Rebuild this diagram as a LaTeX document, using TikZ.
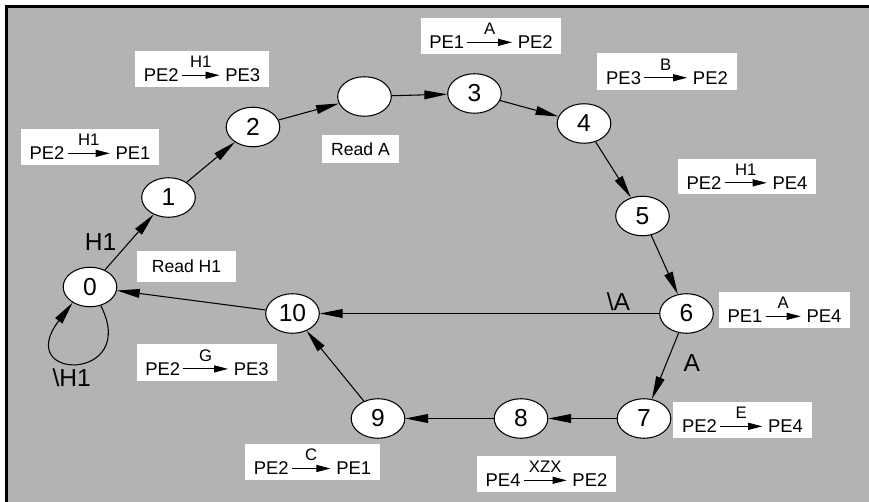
\documentclass[tikz,border=0pt]{standalone}
\usepackage{fontspec}
\setmainfont{Liberation Sans}
\usepackage{xcolor}
\usetikzlibrary{arrows.meta,shapes.geometric}
\definecolor{bggray}{RGB}{179,179,179}
\newcommand{\trans}[4][24pt]{#2\kern1.5pt\tikz[baseline=-3.6pt]\draw[-{Triangle[length=8pt,width=4pt]},line width=0.55pt] (0pt,0pt) -- node[above=4pt,inner sep=0pt,font=\fontsize{9.5}{10}\selectfont]{#3} (#1,0pt);\kern3pt#4}

\begin{document}
\begin{tikzpicture}[x=0.02cm,y=0.02cm]
	\tikzstyle{every node}+=[inner sep=0pt]
	\tikzstyle{state}=[draw=black,fill=white,ellipse,line width=0.6pt,minimum width=30.5pt,minimum height=22.5pt,font=\fontsize{14}{16}\selectfont]
	\tikzstyle{note}=[fill=white,inner xsep=5pt,inner ysep=3pt,font=\fontsize{10.5}{12}\selectfont]
	\tikzstyle{readbox}=[fill=white,minimum width=44pt,minimum height=16pt,font=\fontsize{10}{12}\selectfont]
	\tikzstyle{flow}=[black,line width=0.6pt,-{Triangle[length=13pt,width=5pt]}]
	\tikzstyle{lbl}=[font=\fontsize{14}{16}\selectfont]
	\useasboundingbox (0,0) rectangle (869,-502);
	\fill [white] (0,0) rectangle (869,-502);
	\fill [bggray] (6.5,-6.5) rectangle (869,-502);
	\draw [black,line width=1.7pt] (6.5,-502) -- (6.5,-6.5) -- (869,-6.5);
	\node [state] (n0) at (90,-287) {0};
	\node [state] (n1) at (168.5,-197.5) {1};
	\node [state] (n2) at (253,-127) {2};
	\node [state] (na) at (364.5,-96.5) {};
	\node [state] (n3) at (474.5,-93.5) {3};
	\node [state] (n4) at (584,-123.5) {4};
	\node [state] (n5) at (642.5,-216) {5};
	\node [state] (n6) at (686.5,-313.5) {6};
	\node [state] (n7) at (644,-418.5) {7};
	\node [state] (n8) at (521,-418.5) {8};
	\node [state] (n9) at (378,-418.5) {9};
	\node [state] (n10) at (292.5,-313.5) {10};
	\node [note] (t1) at (90,-147) {\trans{PE2}{H1}{PE1}};
	\node [note] (t2) at (202,-69) {\trans[21.5pt]{PE2}{H1}{PE3}};
	\node [note] (t3) at (491,-36) {\trans[25.5pt]{PE1}{A}{PE2}};
	\node [note] (t4) at (667,-71.5) {\trans[24.5pt]{PE3}{B}{PE2}};
	\node [note] (t5) at (747,-176.5) {\trans{PE2}{H1}{PE4}};
	\node [note] (t6) at (207,-362.5) {\trans[25.5pt]{PE2}{G}{PE3}};
	\node [note] (t7) at (312.5,-462) {\trans[22pt]{PE2}{C}{PE1}};
	\node [note] (t8) at (784.5,-310) {\trans[20pt]{PE1}{A}{PE4}};
	\node [note] (t9) at (742.5,-420) {\trans{PE2}{E}{PE4}};
	\node [note] (t10) at (546.5,-474) {\trans[24.5pt]{PE4}{XZX}{PE2}};
	\node [readbox] (ra) at (360.5,-149) {Read A};
	\node [readbox,minimum width=56pt,minimum height=17.6pt] (rh) at (186.5,-266.5) {Read H1};
	\draw [flow] (n0) -- node [lbl,pos=0.5,left=7pt] {H1} (n1);
	\draw [flow] (n1) -- (n2);
	\draw [flow] (n2) -- (na);
	\draw [flow] (na) -- (n3);
	\draw [flow] (n3) -- (n4);
	\draw [flow] (n4) -- (n5);
	\draw [flow] (n5) -- (n6);
	\draw [flow] (n6) -- node [lbl,pos=0.46,right=9.5pt] {A} (n7);
	\draw [flow] (n6) -- node [lbl,pos=0.12,above=1.5pt] {\textbackslash A} (n10);
	\draw [flow] (n7) -- (n8);
	\draw [flow] (n8) -- (n9);
	\draw [flow] (n9) -- (n10);
	\draw [flow] (n10) -- (n0);
	\draw [flow] (n0.-60) .. controls (140,-382) and (12,-382) .. node [lbl,pos=0.5,below=3pt,xshift=-4pt] {\textbackslash H1} (n0.-138);
\end{tikzpicture}
\end{document}
